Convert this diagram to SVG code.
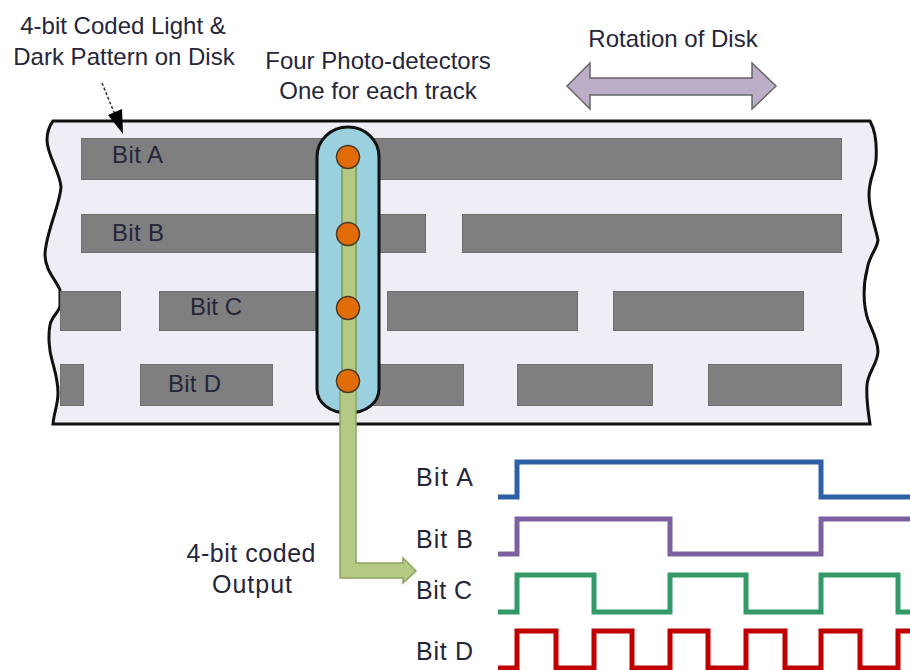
<svg xmlns="http://www.w3.org/2000/svg" width="910" height="670" viewBox="0 0 910 670">
<style>
text{font-family:"Liberation Sans",Arial,sans-serif;font-size:24px;fill:#26263a}
.m{text-anchor:middle}
.lg{font-size:25px}
.bar{fill:#7f7f7f;stroke:#707070;stroke-width:1}
.dot{fill:#e36c0a;stroke:#4a3a2a;stroke-width:1.5}
.wave{fill:none;stroke-width:5;stroke-linejoin:miter}
</style>
<rect width="910" height="670" fill="#fff"/>
<g id="disk">
<path d="M53,121 L870,121 C875,130 877,145 876,160 C875,172 869,178 869,195 C869,210 874,222 878,240 C877,250 869,255 867,270 C863,285 863,305 868,320 C872,330 878,340 878,352 C877,365 868,372 867,385 C866,400 868,410 870,424 L53,424 C54,412 58,405 58,393 C58,380 55,372 52,360 C49,350 48,335 50,325 C52,315 60,312 60,305 L60,290 C56,280 45,270 45,255 C45,235 60,205 61,187 C60,172 47,155 47,140 C47,130 50,125 53,121 Z" fill="#efedf5" stroke="#111" stroke-width="3"/>
</g>
<g id="track-a"><rect class="bar" x="81.5" y="138.5" width="760" height="41"/><text x="112" y="163" textLength="51">Bit A</text></g>
<g id="track-b"><rect class="bar" x="81.5" y="214.5" width="344" height="38"/><rect class="bar" x="462.5" y="214.5" width="379" height="38"/><text x="112" y="241" textLength="52">Bit B</text></g>
<g id="track-c"><rect class="bar" x="60.5" y="291.5" width="60" height="39"/><rect class="bar" x="159.5" y="291.5" width="170" height="39"/><rect class="bar" x="387.5" y="291.5" width="190" height="39"/><rect class="bar" x="613.5" y="291.5" width="190" height="39"/><text x="190" y="315" textLength="52">Bit C</text></g>
<g id="track-d"><rect class="bar" x="60.5" y="364.5" width="23" height="41"/><rect class="bar" x="140.5" y="364.5" width="132" height="41"/><rect class="bar" x="360.5" y="364.5" width="103" height="41"/><rect class="bar" x="517.5" y="364.5" width="135" height="41"/><rect class="bar" x="708.5" y="364.5" width="133" height="41"/><text x="168" y="392" textLength="53">Bit D</text></g>
<g id="detector-housing"><path d="M317,157 C317,140 331,127 348,127 C365,127 379,140 379,157 L379,389 C379,402 367,413 348,413 C329,413 317,402 317,389 Z" fill="#9bd0df" stroke="#111" stroke-width="3"/></g>
<g id="connectors">
<path d="M102,83 L118,122" fill="none" stroke="#333" stroke-width="1.5" stroke-dasharray="3 2"/>
<polygon points="123,134 108,115 122,109" fill="#000"/>
<rect x="342" y="165" width="14" height="210" fill="#b3c984" stroke="#7f9a50" stroke-width="1.5"/>
<path id="output-arrow" d="M340,390 L356,390 L356,563 L403,563 L403,558 L416,571 L403,583 L403,578 L340,578 Z" fill="#b3c984" stroke="#8ea45f" stroke-width="1.5"/>
<polygon id="rotation-arrow" points="567,86 590,63 590,78 752,78 752,63 776,86 752,109 752,95 590,95 590,109" fill="#bcaec9" stroke="#666" stroke-width="1.5"/>
</g>
<g id="detector-a"><circle class="dot" cx="348" cy="157" r="11.5"/></g>
<g id="detector-b"><circle class="dot" cx="348" cy="234" r="11.5"/></g>
<g id="detector-c"><circle class="dot" cx="348" cy="308" r="11.5"/></g>
<g id="detector-d"><circle class="dot" cx="348" cy="381" r="11.5"/></g>
<g id="labels">
<text class="m" x="123" y="34">4-bit Coded Light &amp;</text>
<text class="m" x="124" y="65">Dark Pattern on Disk</text>
<text class="m" x="378" y="69">Four Photo-detectors</text>
<text class="m" x="378" y="99">One for each track</text>
<text class="m" x="673" y="47">Rotation of Disk</text>
<text class="m lg" x="251" y="562" textLength="129">4-bit coded</text>
<text class="m lg" x="252" y="593" textLength="80">Output</text>
</g>
<g id="wave-a"><text class="lg" x="416" y="486" textLength="57">Bit A</text><path class="wave" stroke="#2e60a6" d="M498,497 H517 V462 H821 V497 H910"/></g>
<g id="wave-b"><text class="lg" x="416" y="548" textLength="57">Bit B</text><path class="wave" stroke="#7d609f" d="M498,554 H517 V519 H670 V554 H821 V519 H910"/></g>
<g id="wave-c"><text class="lg" x="416" y="599" textLength="56">Bit C</text><path class="wave" stroke="#339966" d="M498,612 H517 V575 H594 V612 H670 V575 H746 V612 H821 V575 H898 V612 H910"/></g>
<g id="wave-d"><text class="lg" x="416" y="660" textLength="57">Bit D</text><path class="wave" stroke="#c00000" d="M498,668 H517 V631 H556 V668 H594 V631 H632 V668 H670 V631 H708 V668 H746 V631 H785 V668 H821 V631 H860 V668 H898 V631 H910"/></g>
</svg>
